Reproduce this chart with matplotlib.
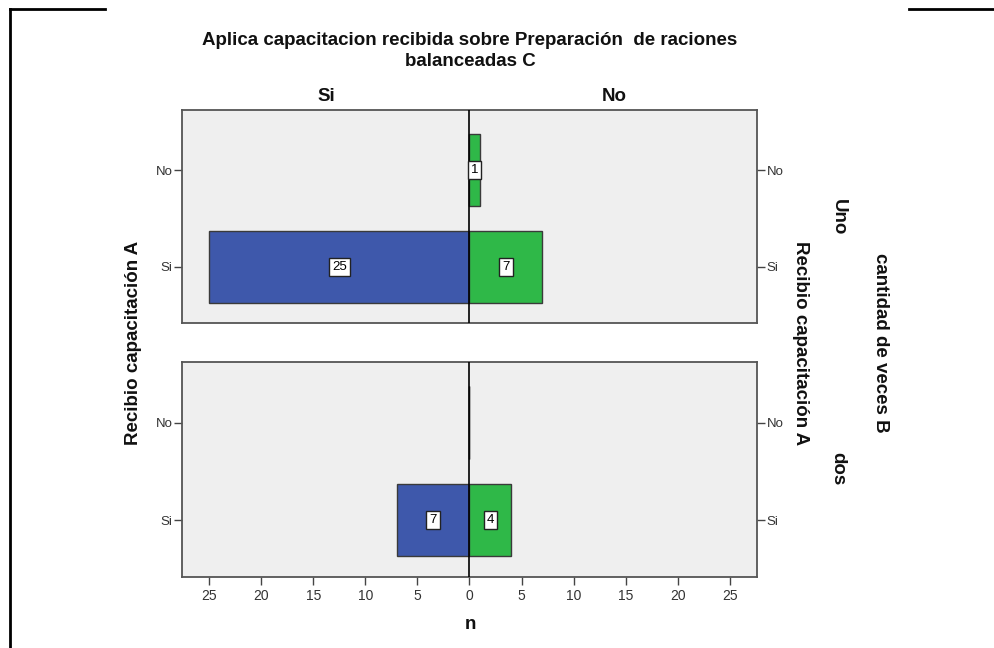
import matplotlib
matplotlib.use("Agg")
import matplotlib.pyplot as plt
from matplotlib.lines import Line2D
import numpy as np

# ---- data ----
categories = ["Si", "No"]            # Recibio capacitación A (y)
panels = ["Uno", "dos"]              # cantidad de veces B
sides = ["Si", "No"]                 # Aplica capacitacion ... C
si_counts = {"Uno": [25, 0], "dos": [7, 0]}
no_counts = {"Uno": [7, 1], "dos": [4, 0]}
xticks_vals = [-25, -20, -15, -10, -5, 0, 5, 10, 15, 20, 25]

BLUE = "#3E58AB"
GREEN = "#2FB848"
BG = "#EFEFEF"
EDGE = "#3a3a3a"

plt.rcParams["font.family"] = ["Liberation Sans", "DejaVu Sans"]

W, H = 994, 648
fig = plt.figure(figsize=(W / 100, H / 100), dpi=100)

def fx(px):
    return px / W

def fy(py):
    return 1 - py / H

panel_px = [(110, 323), (362, 577)]
left_px, right_px = 182, 757
xlim = 27.6
LBL = 13.5

for pi, (name, (top, bot)) in enumerate(zip(panels, panel_px)):
    ax = fig.add_axes([fx(left_px), fy(bot), fx(right_px - left_px), (bot - top) / H])
    ax.set_facecolor(BG)
    y = np.arange(len(categories))
    bh = 0.74
    ax.barh(y, [-v for v in si_counts[name]], height=bh, color=BLUE,
            edgecolor=EDGE, linewidth=1.0, zorder=2)
    ax.barh(y, no_counts[name], height=bh, color=GREEN,
            edgecolor=EDGE, linewidth=1.0, zorder=2)
    ax.axvline(0, color="black", linewidth=1.2, zorder=3)
    for vals, sign in ((si_counts[name], -1), (no_counts[name], 1)):
        for yi, v in zip(y, vals):
            if v > 0:
                ax.text(sign * v / 2, yi, str(v), ha="center", va="center",
                        fontsize=9.5, zorder=5,
                        bbox=dict(boxstyle="square,pad=0.22", fc="white",
                                  ec="#222222", lw=1.0))
    ax.set_xlim(-xlim, xlim)
    ax.set_ylim(-0.58, 1.62)
    ax.set_yticks(y)
    ax.set_yticklabels(categories, fontsize=9.5, color="#333333")
    ax.tick_params(axis="y", which="both", left=True, right=True,
                   labelleft=True, labelright=True, direction="out",
                   length=6, width=1, color="#444444", pad=1)
    for s in ax.spines.values():
        s.set_color("#555555")
        s.set_linewidth(1.3)
    if pi == 1:
        ax.set_xticks(xticks_vals)
        ax.set_xticklabels([str(abs(v)) for v in xticks_vals], fontsize=10,
                           color="#333333")
        ax.tick_params(axis="x", direction="out", length=6, width=1,
                       color="#444444", pad=3)
    else:
        ax.set_xticks([])

bold = dict(fontweight="bold", color="#111111")
fig.text(fx(470), fy(45), "Aplica capacitacion recibida sobre Preparación  de raciones",
         ha="center", va="baseline", fontsize=LBL, **bold)
fig.text(fx(470), fy(66), "balanceadas C", ha="center", va="baseline",
         fontsize=LBL, **bold)
fig.text(fx(326), fy(101), sides[0], ha="center", va="baseline", fontsize=LBL, **bold)
fig.text(fx(614), fy(101), sides[1], ha="center", va="baseline", fontsize=LBL, **bold)
fig.text(fx(470), fy(629), "n", ha="center", va="baseline", fontsize=LBL, **bold)
fig.text(fx(133), fy(343), "Recibio capacitación A", ha="center", va="center",
         rotation=90, fontsize=LBL, **bold)
fig.text(fx(800), fy(343), "Recibio capacitación A", ha="center", va="center",
         rotation=270, fontsize=LBL, **bold)
fig.text(fx(838), fy(217), panels[0], ha="center", va="center",
         rotation=270, fontsize=LBL, **bold)
fig.text(fx(838), fy(469), panels[1], ha="center", va="center",
         rotation=270, fontsize=LBL, **bold)
fig.text(fx(880), fy(343), "cantidad de veces B", ha="center", va="center",
         rotation=270, fontsize=LBL, **bold)

# frame lines (output border)
fig.add_artist(Line2D([fx(10), fx(10)], [fy(9), fy(648)], color="black", lw=2))
fig.add_artist(Line2D([fx(10), fx(105)], [fy(9), fy(9)], color="black", lw=2))
fig.add_artist(Line2D([fx(909), fx(994)], [fy(9), fy(9)], color="black", lw=2))

fig.savefig("out.png", dpi=100)
